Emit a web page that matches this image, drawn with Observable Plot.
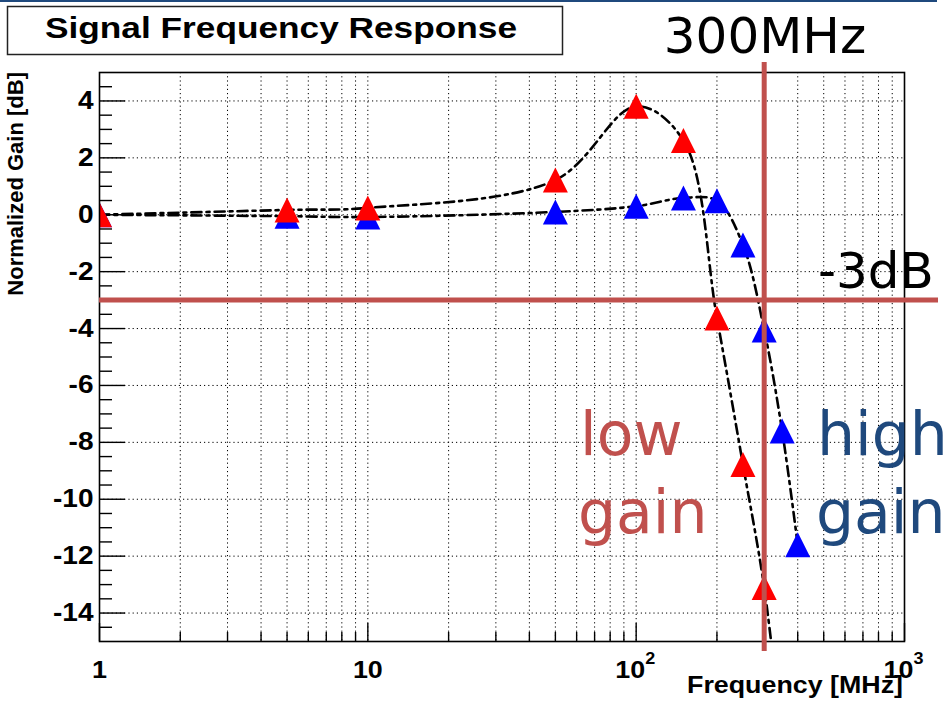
<!DOCTYPE html>
<html>
<head>
<meta charset="utf-8">
<script src="https://cdn.jsdelivr.net/npm/d3@7"></script>
<script src="https://cdn.jsdelivr.net/npm/@observablehq/plot@0.6"></script>
<style>
html, body { margin: 0; padding: 0; background: #fff; }
#chart { position: relative; width: 951px; height: 701px; overflow: hidden; }
svg { display: block; }
</style>
</head>
<body>
<div id="chart"></div>
<script>
// ---- data ----
const freqLow  = [1, 5, 10, 50, 100, 150, 200, 250, 300, 350];
const gainLow  = [0, 0.17, 0.24, 1.22, 3.81, 2.61, -3.63, -8.78, -13.1, -18.5];
const freqHigh = [1, 5, 10, 50, 100, 150, 200, 250, 300, 350, 400];
const gainHigh = [0, -0.05, -0.08, 0.1, 0.3, 0.59, 0.49, -1.06, -4.05, -7.6, -11.6];

const yMajorTicks = [4, 2, 0, -2, -4, -6, -8, -10, -12, -14];
const yTickLabels = ["4", "2", "0", "-2", "-4", "-6", "-8", "-10", "-12", "-14"];
const yMinorTicks = [4.5, 3.5, 3, 2.5, 1.5, 1, 0.5, -0.5, -1, -1.5, -2.5, -3, -3.5, -4.5, -5, -5.5,
  -6.5, -7, -7.5, -8.5, -9, -9.5, -10.5, -11, -11.5, -12.5, -13, -13.5, -14.5];
const xMajorTicks = [1, 10, 100, 1000];
const xMinorTicks = [2, 3, 4, 5, 6, 7, 8, 9, 20, 30, 40, 50, 60, 70, 80, 90, 200, 300, 400, 500, 600, 700, 800, 900];
const xGridTicks  = [2, 3, 4, 5, 6, 7, 8, 9, 10, 20, 30, 40, 50, 60, 70, 80, 90, 100, 200, 300, 400, 500, 600, 700, 800, 900];
const xLabelBase = ["1", "10", "10", "10"];
const xLabelExp  = ["", "", "2", "3"];

const cutoffFreq = [300];
const cutoffGain = [-3];

const titleText = "Signal Frequency Response";
const xTitle = "Frequency [MHz]";
const yTitle = "Normalized Gain [dB]";

// ---- build ----
const low = freqLow.map((f, i) => ({f, g: gainLow[i]}));
const high = freqHigh.map((f, i) => ({f, g: gainHigh[i]}));
const xLabels = xMajorTicks.map((f, i) => ({f, base: xLabelBase[i], exp: xLabelExp[i]}));

const triangle = {
  draw(context, size) {
    const r = Math.sqrt(size / Math.PI);
    context.moveTo(0, -r);
    context.lineTo(r, r);
    context.lineTo(-r, r);
    context.closePath();
  }
};

const ROOT_FONT = "'Liberation Sans', Arial, Helvetica, sans-serif";
const SLIDE_FONT = "'DejaVu Sans', Verdana, sans-serif";
const SLIDE_RED = "#c0504d";
const SLIDE_BLUE = "#1f497d";
const dashDot = "10,5,3,5";
const dotted = "1.2,3";

const W = 951, H = 701;
const mL = 99, mR = 47, mT = 72, mB = 60;
const plotW = W - mL - mR, plotH = H - mT - mB;

const plot = Plot.plot({
  width: W, height: H,
  marginLeft: mL, marginRight: mR, marginTop: mT, marginBottom: mB,
  x: {type: "log", domain: [1, 1000], axis: null},
  y: {domain: [-15, 5], axis: null},
  style: {fontFamily: ROOT_FONT, background: "white", overflow: "visible", color: "black"},
  marks: [
    // grid
    Plot.ruleX(xGridTicks, {stroke: "black", strokeWidth: 1, strokeDasharray: dotted}),
    Plot.ruleY(yMajorTicks, {stroke: "black", strokeWidth: 1, strokeDasharray: dotted}),
    // ticks (inside the frame, ROOT style)
    Plot.tickY(yMajorTicks, {stroke: "black", strokeWidth: 1.4, insetRight: plotW - 26}),
    Plot.tickY(yMinorTicks, {stroke: "black", strokeWidth: 1.4, insetRight: plotW - 13}),
    Plot.tickX(xMajorTicks, {stroke: "black", strokeWidth: 1.4, insetTop: plotH - 18}),
    Plot.tickX(xMinorTicks, {stroke: "black", strokeWidth: 1.4, insetTop: plotH - 9}),
    // curves
    Plot.line(high, {x: "f", y: "g", curve: "catmull-rom", stroke: "black", strokeWidth: 2.6, strokeDasharray: dashDot, clip: true}),
    Plot.line(low, {x: "f", y: "g", curve: "catmull-rom", stroke: "black", strokeWidth: 2.6, strokeDasharray: dashDot, clip: true}),
    // markers
    Plot.dot(high, {x: "f", y: "g", symbol: triangle, r: 12.5, fill: "#0000ff", stroke: "none", clip: true}),
    Plot.dot(low, {x: "f", y: "g", symbol: triangle, r: 12.5, fill: "#ff0000", stroke: "none", clip: true}),
    // frame
    Plot.frame({stroke: "black", strokeWidth: 1.6}),
    // tick labels
    Plot.text(yMajorTicks, {y: d => d, text: (d, i) => yTickLabels[i], frameAnchor: "left", textAnchor: "end", dx: -6, fontSize: 25, fontWeight: "bold", fill: "black"}),
    Plot.text(xLabels.filter(d => !d.exp), {x: "f", text: "base", frameAnchor: "bottom", lineAnchor: "top", dy: 19, fontSize: 24, fontWeight: "bold", fill: "black"}),
    Plot.text(xLabels.filter(d => d.exp), {x: "f", text: "base", frameAnchor: "bottom", lineAnchor: "top", textAnchor: "end", dx: 9, dy: 19, fontSize: 24, fontWeight: "bold", fill: "black"}),
    Plot.text(xLabels.filter(d => d.exp), {x: "f", text: "exp", frameAnchor: "bottom", lineAnchor: "top", textAnchor: "start", dx: 9, dy: 11, fontSize: 16, fontWeight: "bold", fill: "black"}),
    // slide overlays: -3 dB and 300 MHz markers
    Plot.ruleY(cutoffGain, {stroke: SLIDE_RED, strokeWidth: 5, insetRight: -34}),
    Plot.ruleX(cutoffFreq, {stroke: SLIDE_RED, strokeWidth: 5, insetTop: -10, insetBottom: -10})
  ]
});

document.getElementById("chart").appendChild(plot);
const svg = d3.select(plot);

// ROOT renders the tick labels slightly wider than Arial: stretch them horizontally
svg.selectAll("text").each(function () {
  const len = this.getComputedTextLength();
  if (len > 0) {
    this.setAttribute("textLength", (len * 1.12).toFixed(1));
    this.setAttribute("lengthAdjust", "spacingAndGlyphs");
  }
});

// slide header line
svg.append("rect").attr("x", 0).attr("y", 0).attr("width", 937).attr("height", 2).attr("fill", SLIDE_BLUE);

// ROOT title box
svg.append("rect").attr("x", 7.5).attr("y", 6.5).attr("width", 555).attr("height", 48)
  .attr("fill", "white").attr("stroke", "#222").attr("stroke-width", 1.5);
svg.append("text").attr("x", 281).attr("y", 38).attr("text-anchor", "middle")
  .attr("font-family", ROOT_FONT).attr("font-weight", "bold").attr("font-size", 30)
  .attr("textLength", 472).attr("lengthAdjust", "spacingAndGlyphs").text(titleText);

// axis titles
svg.append("text").attr("x", 903).attr("y", 693).attr("text-anchor", "end")
  .attr("font-family", ROOT_FONT).attr("font-weight", "bold").attr("font-size", 24)
  .attr("textLength", 216).attr("lengthAdjust", "spacingAndGlyphs").text(xTitle);
svg.append("text").attr("transform", "translate(23,72) rotate(-90)").attr("text-anchor", "end")
  .attr("font-family", ROOT_FONT).attr("font-weight", "bold").attr("font-size", 22).text(yTitle);

// slide annotations
function slideText(x, y, str, size, color, anchor) {
  svg.append("text").attr("x", x).attr("y", y).attr("text-anchor", anchor || "start")
    .attr("font-family", SLIDE_FONT).attr("font-size", size).attr("fill", color).text(str);
}
slideText(765, 53, "300MHz", 50, "black", "middle");
slideText(818, 288, "-3dB", 50, "black");
slideText(580, 455, "low", 60, SLIDE_RED);
slideText(578, 533, "gain", 60, SLIDE_RED);
slideText(817, 455, "high", 60, SLIDE_BLUE);
slideText(816, 533, "gain", 60, SLIDE_BLUE);
</script>
</body>
</html>
